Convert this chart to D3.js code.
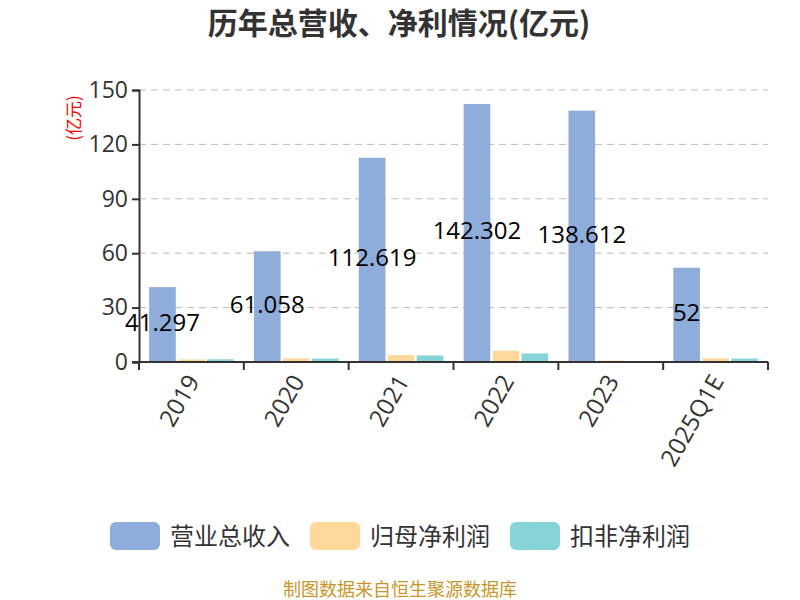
<!DOCTYPE html>
<html>
<head>
<meta charset="utf-8">
<script src="https://cdn.jsdelivr.net/npm/d3@7"></script>
<style>
  body { margin: 0; background: #fff; }
  svg { font-family: "Noto Sans CJK SC", "Open Sans", sans-serif; }
</style>
</head>
<body>
<svg id="chart" width="800" height="600"></svg>
<script>
// data
var years = ["2019", "2020", "2021", "2022", "2023", "2025Q1E"]
var revenue = [41.297, 61.058, 112.619, 142.302, 138.612, 52]
var netProfit = [1.4, 2.0, 3.8, 6.2, 0.8, 2.0]
var deductedProfit = [1.5, 1.9, 3.6, 4.7, 0, 1.9]
var seriesNames = ["营业总收入", "归母净利润", "扣非净利润"]
var colors = ["#8eaddb", "#ffd899", "#86d4d8"]
var yTicks = [0, 30, 60, 90, 120, 150]

var svg = d3.select("#chart")
var plotLeft = 139, plotRight = 768, plotTop = 90, plotBottom = 362

var x = d3.scaleBand().domain(years).range([plotLeft, plotRight]).paddingInner(0).paddingOuter(0)
var sub = d3.scaleBand().domain([0, 1, 2]).range([0, x.bandwidth()]).paddingInner(0.08).paddingOuter(0.35)
var y = d3.scaleLinear().domain([0, 150]).range([plotBottom, plotTop])

// title
svg.append("text")
    .attr("x", 399).attr("y", 34)
    .attr("text-anchor", "middle")
    .attr("font-size", 30).attr("font-weight", "bold")
    .attr("fill", "#333")
    .text("历年总营收、净利情况(亿元)")

// grid lines
svg.append("g").selectAll("line")
    .data(yTicks.filter(d => d > 0))
    .join("line")
    .attr("x1", plotLeft).attr("x2", plotRight)
    .attr("y1", d => y(d)).attr("y2", d => y(d))
    .attr("stroke", "#bcbcbc").attr("stroke-dasharray", "7,5")

// y axis
var yAxis = svg.append("g")
    .attr("transform", `translate(${plotLeft},0)`)
    .call(d3.axisLeft(y).tickValues(yTicks).tickSize(7).tickPadding(4))
yAxis.select(".domain").attr("stroke", "#333").attr("stroke-width", 2)
yAxis.selectAll(".tick line").attr("stroke", "#333").attr("stroke-width", 2)
yAxis.selectAll("text").attr("font-size", 23).attr("fill", "#333")
    .attr("font-family", "'Open Sans', sans-serif")

svg.append("text")
    .attr("transform", `translate(80,118) rotate(-90)`)
    .attr("text-anchor", "middle")
    .attr("font-size", 17).attr("fill", "red")
    .text("(亿元)")

// bars
var rows = years.map((yr, i) => ({year: yr, vals: [revenue[i], netProfit[i], deductedProfit[i]]}))
var groups = svg.append("g").selectAll("g")
    .data(rows)
    .join("g")
    .attr("transform", d => `translate(${x(d.year)},0)`)
groups.selectAll("rect")
    .data(d => d.vals.map((v, k) => ({k: k, v: v})))
    .join("rect")
    .attr("x", d => sub(d.k))
    .attr("width", sub.bandwidth())
    .attr("y", d => y(d.v))
    .attr("height", d => plotBottom - y(d.v))
    .attr("fill", d => colors[d.k])

// x axis
var xAxis = svg.append("g")
    .attr("transform", `translate(0,${plotBottom})`)
    .call(d3.axisBottom(x).tickSize(0).tickPadding(0))
xAxis.select(".domain").attr("stroke", "#333").attr("stroke-width", 2)
    .attr("d", `M${plotLeft - 7},0H${plotRight}`)
xAxis.append("g").selectAll("line")
    .data(years.concat(["end"]))
    .join("line")
    .attr("x1", (d, i) => plotLeft + i * x.bandwidth())
    .attr("x2", (d, i) => plotLeft + i * x.bandwidth())
    .attr("y1", 0).attr("y2", 8)
    .attr("stroke", "#333").attr("stroke-width", 2)
xAxis.selectAll(".tick text")
    .attr("font-size", 24).attr("fill", "#333")
    .attr("font-family", "'Open Sans', sans-serif")
    .attr("text-anchor", "end")
    .attr("dy", 0)
    .attr("transform", "translate(9,19) rotate(-60)")

// value labels on revenue bars
groups.append("text")
    .attr("x", sub(0) + sub.bandwidth() / 2)
    .attr("y", d => (y(d.vals[0]) + plotBottom) / 2 - 2)
    .attr("dy", "0.35em")
    .attr("text-anchor", "middle")
    .attr("font-size", 24).attr("fill", "#000")
    .attr("font-family", "'Open Sans', sans-serif")
    .text(d => d.vals[0])

// legend
var legendX = [110, 310, 510]
var legend = svg.append("g").selectAll("g")
    .data(seriesNames)
    .join("g")
    .attr("transform", (d, i) => `translate(${legendX[i]},522)`)
legend.append("rect")
    .attr("width", 50).attr("height", 28).attr("rx", 6)
    .attr("fill", (d, i) => colors[i])
legend.append("text")
    .attr("x", 60).attr("y", 14).attr("dy", "0.36em")
    .attr("font-size", 24).attr("fill", "#333")
    .text(d => d)

// source note
svg.append("text")
    .attr("x", 400).attr("y", 596)
    .attr("text-anchor", "middle")
    .attr("font-size", 18).attr("fill", "#c9962a")
    .text("制图数据来自恒生聚源数据库")
</script>
</body>
</html>
